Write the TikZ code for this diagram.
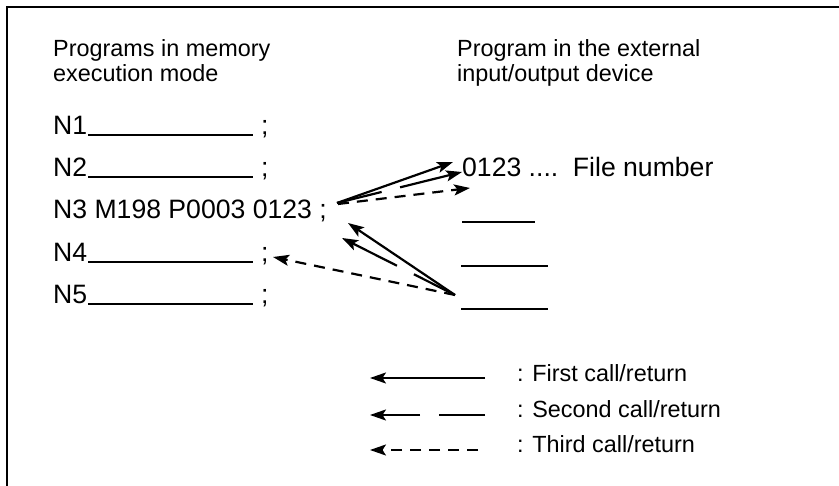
\documentclass[tikz,border=0pt]{standalone}
\usepackage{fontspec}
\setmainfont{Liberation Sans}
\usetikzlibrary{positioning, arrows.meta}

\tikzset{
  headtxt/.style={anchor=base west, inner sep=0pt, font=\fontsize{23.4}{25}\selectfont},
  rowtxt/.style={anchor=base west, inner sep=0pt, font=\fontsize{26.6}{28}\selectfont},
  blank/.style={line width=2.2pt},
  call/.style={line width=2.2pt, -{Stealth[length=16pt, width=11pt, inset=3.5pt]}},
  firstcall/.style={call},
  secondcall/.style={call, dash pattern=on 46pt off 19pt on 400pt off 0pt},
  thirdcall/.style={call, dash pattern=on 11pt off 8pt},
}

\begin{document}
\begin{tikzpicture}[x=1pt, y=-1pt]
    \useasboundingbox (0,0) rectangle (839,486);

    % --- Frame (open to the right and below) ---
    \draw[line width=2.2pt] (7,486) -- (7,7) -- (839,7);

    % --- Headings ---
    \node[headtxt] (memhead)  at (53,57)  {Programs in memory};
    \node[headtxt] (memhead2) at (53,82)  {execution mode};
    \node[headtxt] (exthead)  at (457,57) {Program in the external};
    \node[headtxt] (exthead2) at (457,82) {input/output device};

    % --- Main program blocks ---
    \node[rowtxt] (n1) at (53,135) {N1};
    \node[rowtxt] (n2) at (53,177) {N2};
    \node[rowtxt] (n3) at (53,219) {N3 M198 P0003 0123 ;};
    \node[rowtxt] (n4) at (53,262) {N4};
    \node[rowtxt] (n5) at (53,304) {N5};

    \node[rowtxt] (s1) at (261,135) {;};
    \node[rowtxt] (s2) at (261,177) {;};
    \node[rowtxt] (s4) at (261,262) {;};
    \node[rowtxt] (s5) at (261,304) {;};

    \draw[blank] (88,135) -- (253,135);
    \draw[blank] (88,177) -- (253,177);
    \draw[blank] (88,262) -- (253,262);
    \draw[blank] (88,304) -- (253,304);

    % --- Subprogram in the external device ---
    \node[rowtxt] (file) at (462,177) {0123 ....\hspace{0.55em}File number};
    \draw[blank] (462,222) -- (535,222);
    \draw[blank] (461,266) -- (548,266);
    \draw[blank] (461,309) -- (548,309);

    % --- Call / return arrows ---
    \coordinate (callsrc)  at (337,203);
    \coordinate (callsrc3) at (338,204);
    \coordinate (tip1)     at (453,162);
    \coordinate (tip2)     at (462,172);
    \coordinate (tip3)     at (470,188);
    \coordinate (retsrc)   at (455,295);
    \coordinate (back1)    at (348,223);
    \coordinate (back2)    at (342,238);
    \coordinate (back3)    at (273,257);

    \draw[firstcall]  (callsrc)  -- (tip1);
    \draw[secondcall] (callsrc)  -- (tip2);
    \draw[thirdcall]  (callsrc3) -- (tip3);
    \draw[firstcall]  (retsrc) -- (back1);
    \draw[secondcall] (retsrc) -- (back2);
    \draw[thirdcall]  (retsrc) -- (back3);

    % --- Legend ---
    \coordinate (leg1a) at (485,378);  \coordinate (leg1b) at (370,378);
    \coordinate (leg2a) at (485,415);  \coordinate (leg2b) at (370,415);
    \coordinate (leg3a) at (478,450);  \coordinate (leg3b) at (370,450);
    \draw[firstcall]  (leg1a) -- (leg1b);
    \draw[secondcall] (leg2a) -- (leg2b);
    \draw[thirdcall]  (leg3a) -- (leg3b);

    \node[headtxt] (leg1) at (517,382) {: First call/return};
    \node[headtxt] (leg2) at (517,418) {: Second call/return};
    \node[headtxt] (leg3) at (517,453) {: Third call/return};

\end{tikzpicture}
\end{document}
